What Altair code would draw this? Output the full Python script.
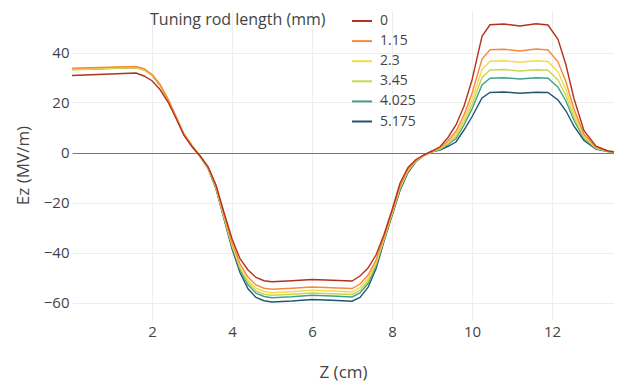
import altair as alt
import pandas as pd

# Z positions (cm)
z = [0, 1.6, 1.8, 2.0, 2.2, 2.4, 2.6, 2.8, 3.0, 3.2, 3.4, 3.6, 3.8, 4.0, 4.2, 4.4,
     4.6, 4.8, 5.0, 5.5, 6.0, 6.5, 7.0, 7.2, 7.4, 7.6, 7.8, 8.0, 8.2, 8.4, 8.6, 8.8,
     9.0, 9.2, 9.4, 9.6, 9.8, 10.0, 10.25, 10.45, 10.8, 11.2, 11.6, 11.9, 12.15,
     12.35, 12.55, 12.8, 13.1, 13.4, 13.7]

ez_0 = [30.8, 31.8, 30.6, 28.7, 25.2, 20.2, 13.7, 6.8, 2.3, -1.3, -5.6, -13.0, -24.0,
        -34.5, -42.5, -47.0, -50.0, -51.3, -51.7, -51.3, -50.8, -51.1, -51.4, -49.4,
        -46.2, -41.0, -32.8, -23.0, -12.3, -6.0, -2.8, -0.9, 0.6, 2.3, 6.0, 11.0, 18.5,
        29.0, 46.5, 51.1, 51.4, 50.6, 51.5, 51.0, 45.3, 35.0, 21.5, 8.7, 2.5, 0.6, 0.0]

ez_115 = [33.7, 34.4, 33.5, 31.2, 27.2, 21.4, 14.4, 7.4, 2.7, -1.4, -5.9, -13.6, -24.9,
          -36.0, -44.5, -49.8, -53.0, -54.3, -54.7, -54.3, -53.8, -54.1, -54.4, -52.6,
          -49.1, -43.0, -33.8, -23.9, -13.4, -6.7, -3.1, -1.0, 0.5, 1.8, 4.7, 8.5, 15.0,
          23.6, 37.4, 41.1, 41.3, 40.6, 41.4, 41.0, 36.3, 28.2, 17.4, 7.3, 2.1, 0.5, 0.0]

ez_23 = [33.5, 34.2, 33.3, 31.0, 27.0, 21.3, 14.3, 7.3, 2.6, -1.4, -6.0, -13.8, -25.4,
         -36.7, -45.5, -51.1, -54.3, -55.6, -56.1, -55.7, -55.1, -55.4, -55.8, -54.0,
         -50.4, -44.0, -34.3, -24.2, -13.9, -7.1, -3.2, -1.1, 0.4, 1.6, 4.1, 7.3, 13.4,
         21.1, 33.2, 36.5, 36.7, 36.1, 36.7, 36.4, 32.2, 25.1, 15.6, 6.6, 1.9, 0.5, 0.0]

ez_345 = [33.1, 33.9, 33.0, 30.8, 26.8, 21.1, 14.2, 7.2, 2.6, -1.5, -6.1, -14.0, -25.7,
          -37.2, -46.2, -52.0, -55.4, -56.7, -57.1, -56.7, -56.2, -56.5, -56.8, -55.2,
          -51.4, -44.7, -34.6, -24.5, -14.2, -7.3, -3.3, -1.1, 0.4, 1.4, 3.7, 6.4, 12.1,
          19.2, 30.0, 33.0, 33.2, 32.6, 33.1, 32.9, 29.0, 22.7, 14.1, 6.1, 1.8, 0.5, 0.0]

ez_4025 = [33.2, 34.0, 33.1, 30.9, 26.9, 21.2, 14.2, 7.2, 2.6, -1.5, -6.2, -14.2, -26.0,
           -37.7, -46.8, -52.9, -56.3, -57.6, -58.1, -57.7, -57.1, -57.4, -57.8, -56.2,
           -52.4, -45.3, -34.9, -24.8, -14.6, -7.6, -3.4, -1.1, 0.4, 1.3, 3.2, 5.6, 11.0,
           17.4, 27.0, 29.7, 29.9, 29.4, 29.9, 29.7, 26.1, 20.5, 12.8, 5.6, 1.6, 0.4, 0.0]

ez_5175 = [33.3, 34.1, 33.2, 31.0, 27.0, 21.2, 14.2, 7.2, 2.6, -1.5, -6.3, -14.5, -26.5,
           -38.5, -48.0, -54.5, -58.0, -59.3, -59.8, -59.4, -58.8, -59.1, -59.5, -58.0,
           -54.0, -46.5, -35.5, -25.3, -15.2, -8.0, -3.6, -1.2, 0.3, 1.0, 2.5, 4.2, 9.0,
           14.3, 21.8, 24.0, 24.2, 23.7, 24.1, 24.0, 21.0, 16.6, 10.5, 4.8, 1.4, 0.4, 0.0]

rod_lengths = ["0", "1.15", "2.3", "3.45", "4.025", "5.175"]
series = [ez_0, ez_115, ez_23, ez_345, ez_4025, ez_5175]
colors = ["#b3321d", "#f6893c", "#f8d84a", "#c3d851", "#42a08a", "#215670"]
y_ticks = [-60, -40, -20, 0, 20, 40]
x_ticks = [2, 4, 6, 8, 10, 12]

rows = []
# later-listed series drawn first so the 0/1.15 curves sit on top
for name, vals in reversed(list(zip(rod_lengths, series))):
    for zi, v in zip(z, vals):
        rows.append({"z": zi, "ez": v, "rod": name})
df = pd.DataFrame(rows)

chart = alt.Chart(df).mark_line(strokeWidth=1.4, clip=True).encode(
    x=alt.X("z:Q", scale=alt.Scale(domain=[0, 13.55], nice=False, zero=False),
            axis=alt.Axis(title="Z (cm)", values=x_ticks, format="d", domain=False,
                          ticks=False, labelPadding=4, titlePadding=25,
                          gridColor="#eeeeee")),
    y=alt.Y("ez:Q", scale=alt.Scale(domain=[-67, 57], nice=False, zero=False),
            axis=alt.Axis(title="Ez (MV/m)", values=y_ticks, format="d", domain=False,
                          ticks=False, labelPadding=3, titlePadding=11,
                          gridColor={"condition": {"test": "datum.value === 0", "value": "#777777"},
                                     "value": "#eeeeee"})),
    color=alt.Color("rod:N", scale=alt.Scale(domain=rod_lengths, range=colors),
                    legend=alt.Legend(title="Tuning rod length (mm)", orient="none",
                                      legendX=78, legendY=0, titleOrient="left",
                                      titleAnchor="start", titleBaseline="line-top",
                                      titleLineHeight=21, titlePadding=25,
                                      symbolType="stroke",
                                      symbolStrokeWidth=2, symbolSize=400,
                                      rowPadding=2.1, labelOffset=7)),
    order=alt.value(0),
).properties(
    width=542, height=310,
    autosize=alt.AutoSizeParams(type="none"),
    padding={"left": 64, "top": 2, "right": 0, "bottom": 66},
).configure(
    font="Open Sans",
).configure_view(
    stroke=None,
).configure_axis(
    labelFont="Open Sans", labelFontSize=15, labelColor="#444444",
    titleFont="Open Sans", titleFontSize=17, titleColor="#444444",
    titleFontWeight="normal", gridWidth=1,
).configure_legend(
    labelFont="Open Sans", labelFontSize=14, labelColor="#444444",
    titleFont="Open Sans", titleFontSize=16, titleColor="#444444",
    titleFontWeight="normal",
)

chart.save("out.html", embed_options={"renderer": "svg", "actions": False})
